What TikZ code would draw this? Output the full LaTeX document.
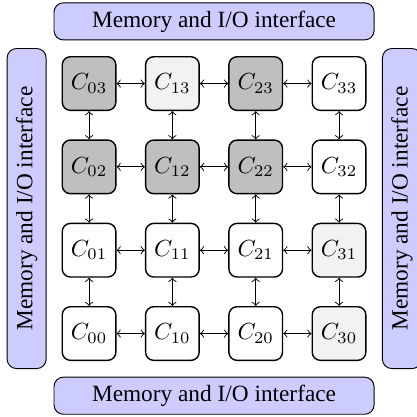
\documentclass[tikz,border=0pt]{standalone}
\usepackage[no-math]{fontspec}
\setmainfont{Liberation Serif}
\usepackage{tikz}
\usetikzlibrary{arrows,positioning,calc}

\begin{document}
\begin{tikzpicture}[<->,>=to,auto,node distance=35.75pt,thin]

  \tikzstyle{core}=[rectangle,draw,semithick,rounded corners=3.5pt,
                    minimum size=23pt,inner sep=0pt,fill=white]
  \tikzstyle{busy}=[core,fill=gray!50]
  \tikzstyle{idle}=[core,fill=gray!10]
  \tikzstyle{iface}=[rectangle,draw,rounded corners=4pt,fill=blue!20,
                     minimum width=137.3pt,minimum height=15.9pt]

  \useasboundingbox (-38.2pt,-35.8pt) rectangle (140.3pt,143.1pt);

  \node[core]         (C00)               {$C_{00}$};
  \node[core]         (C10) [right of=C00] {$C_{10}$};
  \node[core]         (C20) [right of=C10] {$C_{20}$};
  \node[idle]         (C30) [right of=C20] {$C_{30}$};
  \node[core]         (C01) [above of=C00] {$C_{01}$};
  \node[core]         (C11) [right of=C01] {$C_{11}$};
  \node[core]         (C21) [right of=C11] {$C_{21}$};
  \node[idle]         (C31) [right of=C21] {$C_{31}$};
  \node[busy]         (C02) [above of=C01] {$C_{02}$};
  \node[busy]         (C12) [right of=C02] {$C_{12}$};
  \node[busy]         (C22) [right of=C12] {$C_{22}$};
  \node[core]         (C32) [right of=C22] {$C_{32}$};
  \node[busy]         (C03) [above of=C02] {$C_{03}$};
  \node[idle]         (C13) [right of=C03] {$C_{13}$};
  \node[busy]         (C23) [right of=C13] {$C_{23}$};
  \node[core]         (C33) [right of=C23] {$C_{33}$};

  \coordinate (mid) at ($(C00)!0.5!(C33)$);

  \node[iface]           (top)   at ($(mid)+(0,80.3pt)$)  {Memory and I/O interface};
  \node[iface]           (bot)   at ($(mid)+(0,-80.3pt)$) {Memory and I/O interface};
  \node[iface,rotate=90,minimum height=16.7pt] (left)  at ($(mid)+(-80.4pt,0)$) {Memory and I/O interface};
  \node[iface,rotate=90,minimum height=16.7pt] (right) at ($(mid)+(80.6pt,0)$)  {Memory and I/O interface};

  \path
  (C00) edge (C10) (C10) edge (C20) (C20) edge (C30)
  (C01) edge (C11) (C11) edge (C21) (C21) edge (C31)
  (C02) edge (C12) (C12) edge (C22) (C22) edge (C32)
  (C03) edge (C13) (C13) edge (C23) (C23) edge (C33)
  (C00) edge (C01) (C01) edge (C02) (C02) edge (C03)
  (C10) edge (C11) (C11) edge (C12) (C12) edge (C13)
  (C20) edge (C21) (C21) edge (C22) (C22) edge (C23)
  (C30) edge (C31) (C31) edge (C32) (C32) edge (C33)
  ;
\end{tikzpicture}
\end{document}
